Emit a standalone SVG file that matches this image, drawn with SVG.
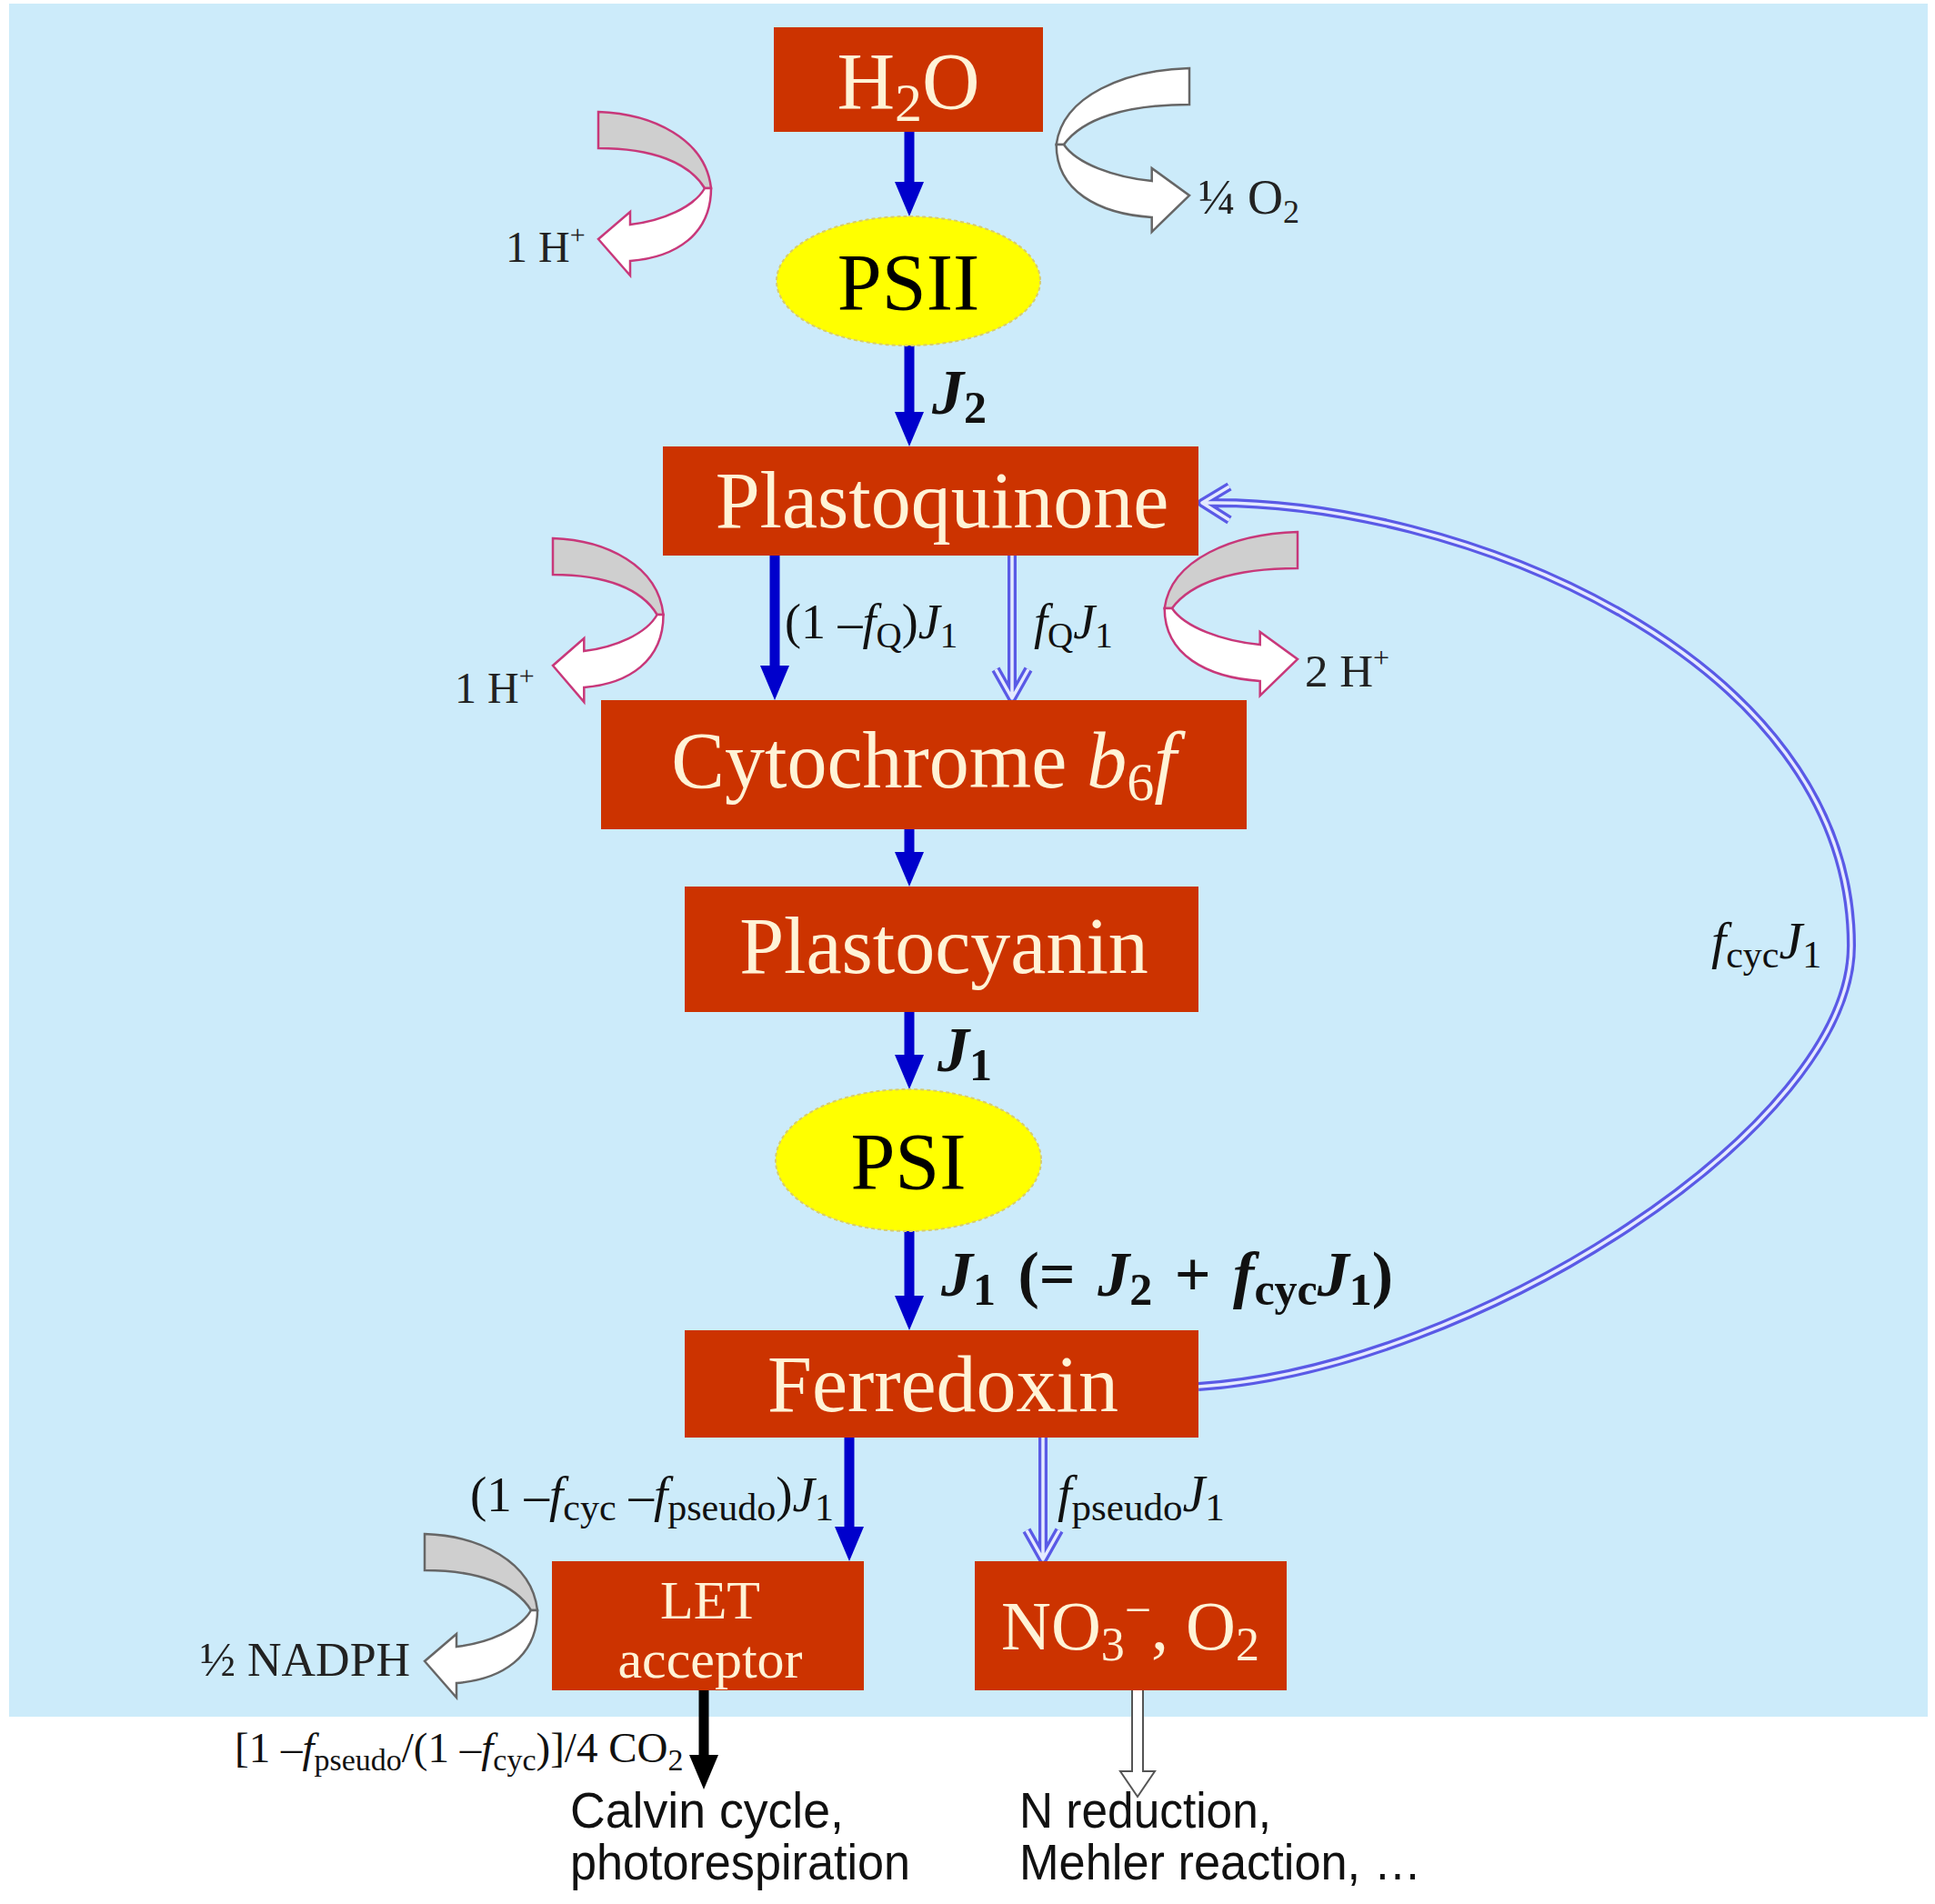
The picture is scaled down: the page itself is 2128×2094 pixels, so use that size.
<svg xmlns="http://www.w3.org/2000/svg" width="2128" height="2094" viewBox="0 0 2128 2094">
<defs>
<style>
.box{fill:#CC3300}
.bt{font-family:'Liberation Serif','Times New Roman',serif;fill:#FFF3D6;font-size:88px;text-anchor:middle}
.lb{font-family:'Liberation Serif','Times New Roman',serif;fill:#111;font-size:54px}
.bj{font-family:'Liberation Serif','Times New Roman',serif;fill:#111;font-size:70px;font-weight:bold;font-style:italic}
.hp{font-family:'Liberation Serif','Times New Roman',serif;fill:#222;font-size:48px}
.sans{font-family:'Liberation Sans',Arial,sans-serif;fill:#111;font-size:56px}
.blue{stroke:#0000CC;stroke-width:11;fill:none}
.dblo{stroke:#5A5AE6;stroke-width:10;fill:none;stroke-linejoin:round}
.dbli{stroke:#E4EAFF;stroke-width:3.5;fill:none;stroke-linejoin:round}
.cpk{stroke:#C8387A;stroke-width:2.5;vector-effect:non-scaling-stroke}
.cgy{stroke:#666;stroke-width:2.5;vector-effect:non-scaling-stroke}
.back{fill:#CFCFCF}
.front{fill:#FFFFFF}
</style>
<marker id="hb" markerUnits="userSpaceOnUse" viewBox="0 0 38 32" refX="0" refY="16" markerWidth="38" markerHeight="32" orient="auto"><path d="M0,0 L38,16 L0,32 Z" fill="#0000CC"/></marker>
<marker id="hk" markerUnits="userSpaceOnUse" viewBox="0 0 38 32" refX="0" refY="16" markerWidth="38" markerHeight="32" orient="auto"><path d="M0,0 L38,16 L0,32 Z" fill="#000"/></marker>
</defs>
<rect x="0" y="0" width="2128" height="2094" fill="#FFFFFF"/>
<rect x="10" y="4" width="2110" height="1884" fill="#CCEBFA"/>

<g id="curved-arrows">
<g id="ca-psii" transform="translate(658,123)">
<path class="back cpk" d="M0,0 C60,2 118,30 124,84 L117,84 C100,56 60,40 0,40 Z"/>
<path class="front cpk" d="M117,84 C105,105 70,120 35,124 L35,110 L0,140 L35,180 L35,164 C85,160 124,135 124,84 Z"/>
</g>
<g id="ca-o2" transform="translate(1308,75) scale(-1.18,1)">
<path class="front cgy" d="M0,0 C60,2 118,30 124,84 L117,84 C100,56 60,40 0,40 Z"/>
<path class="front cgy" d="M117,84 C105,105 70,120 35,124 L35,110 L0,140 L35,180 L35,164 C85,160 124,135 124,84 Z"/>
</g>
<g id="ca-cyt-left" transform="translate(608,592) scale(0.98,1)">
<path class="back cpk" d="M0,0 C60,2 118,30 124,84 L117,84 C100,56 60,40 0,40 Z"/>
<path class="front cpk" d="M117,84 C105,105 70,120 35,124 L35,110 L0,140 L35,180 L35,164 C85,160 124,135 124,84 Z"/>
</g>
<g id="ca-cyt-right" transform="translate(1427,585) scale(-1.18,1)">
<path class="back cpk" d="M0,0 C60,2 118,30 124,84 L117,84 C100,56 60,40 0,40 Z"/>
<path class="front cpk" d="M117,84 C105,105 70,120 35,124 L35,110 L0,140 L35,180 L35,164 C85,160 124,135 124,84 Z"/>
</g>
<g id="ca-nadph" transform="translate(467,1687)">
<path class="back cgy" d="M0,0 C60,2 118,30 124,84 L117,84 C100,56 60,40 0,40 Z"/>
<path class="front cgy" d="M117,84 C105,105 70,120 35,124 L35,110 L0,140 L35,180 L35,164 C85,160 124,135 124,84 Z"/>
</g>
</g>

<g id="connectors">
<line class="blue" x1="1000" y1="145" x2="1000" y2="200" marker-end="url(#hb)"/>
<line class="blue" x1="1000" y1="380" x2="1000" y2="453" marker-end="url(#hb)"/>
<line class="blue" x1="852" y1="611" x2="852" y2="732" marker-end="url(#hb)"/>
<line class="blue" x1="1000" y1="912" x2="1000" y2="937" marker-end="url(#hb)"/>
<line class="blue" x1="1000" y1="1113" x2="1000" y2="1160" marker-end="url(#hb)"/>
<line class="blue" x1="1000" y1="1354" x2="1000" y2="1425" marker-end="url(#hb)"/>
<line class="blue" x1="934" y1="1581" x2="934" y2="1679" marker-end="url(#hb)"/>
<line stroke="#000" stroke-width="11" x1="774" y1="1859" x2="774" y2="1930" marker-end="url(#hk)"/>
<path class="dblo" d="M1113,611 V766 M1095,736 L1113,768 L1131,736"/>
<path class="dbli" d="M1113,611 V766 M1095,736 L1113,768 L1131,736"/>
<path class="dblo" d="M1147,1581 V1713 M1129,1683 L1147,1715 L1165,1683"/>
<path class="dbli" d="M1147,1581 V1713 M1129,1683 L1147,1715 L1165,1683"/>
<path class="dblo" d="M1318,1525 C1620,1505 2036,1240 2036,1040 C2036,720 1600,548 1324,553 M1352,535 L1322,553 L1352,572"/>
<path class="dbli" d="M1318,1525 C1620,1505 2036,1240 2036,1040 C2036,720 1600,548 1324,553 M1352,535 L1322,553 L1352,572"/>
<path d="M1245,1859 V1948 H1232 L1251,1976 L1270,1948 H1257 V1859" fill="#FFF" stroke="#555" stroke-width="2"/>
</g>

<g id="n-h2o"><rect class="box" x="851" y="30" width="296" height="115"/><text class="bt" x="999" y="119">H<tspan font-size="60" dy="14">2</tspan><tspan dy="-14">O</tspan></text></g>
<g id="n-psii"><ellipse cx="999" cy="309" rx="145" ry="71" fill="#FFFF00" stroke="#D8CC6A" stroke-width="2" stroke-dasharray="4 3"/><text x="999" y="340" class="bt" style="fill:#000">PSII</text></g>
<g id="n-pq"><rect class="box" x="729" y="491" width="589" height="120"/><text class="bt" x="1036" y="580">Plastoquinone</text></g>
<g id="n-cyt"><rect class="box" x="661" y="770" width="710" height="142"/><text class="bt" x="1016" y="866">Cytochrome <tspan font-style="italic">b</tspan><tspan font-size="60" dy="14">6</tspan><tspan dy="-14" font-style="italic">f</tspan></text></g>
<g id="n-pc"><rect class="box" x="753" y="975" width="565" height="138"/><text class="bt" x="1038" y="1070">Plastocyanin</text></g>
<g id="n-psi"><ellipse cx="999" cy="1276" rx="146" ry="78" fill="#FFFF00" stroke="#D8CC6A" stroke-width="2" stroke-dasharray="4 3"/><text x="999" y="1307" class="bt" style="fill:#000">PSI</text></g>
<g id="n-fd"><rect class="box" x="753" y="1463" width="565" height="118"/><text class="bt" x="1037" y="1552">Ferredoxin</text></g>
<g id="n-let"><rect class="box" x="607" y="1717" width="343" height="142"/><text class="bt" x="781" y="1780" style="font-size:60px">LET</text><text class="bt" x="781" y="1845" style="font-size:60px">acceptor</text></g>
<g id="n-no3"><rect class="box" x="1072" y="1717" width="343" height="142"/><text class="bt" x="1243" y="1814" style="font-size:76px">NO<tspan font-size="52" dy="12">3</tspan><tspan font-size="52" dy="-38">−</tspan><tspan dy="26">, O</tspan><tspan font-size="52" dy="12">2</tspan></text></g>

<g id="labels">
<text class="bj" x="1025" y="455">J<tspan font-size="50" dy="10" font-style="normal">2</tspan></text>
<text class="lb" x="863" y="702">(1 –<tspan font-style="italic">f</tspan><tspan font-size="39" dy="10">Q</tspan><tspan dy="-10">)</tspan><tspan font-style="italic">J</tspan><tspan font-size="39" dy="10">1</tspan></text>
<text class="lb" x="1137" y="702"><tspan font-style="italic">f</tspan><tspan font-size="39" dy="10">Q</tspan><tspan dy="-10" font-style="italic">J</tspan><tspan font-size="39" dy="10">1</tspan></text>
<text class="bj" x="1031" y="1178">J<tspan font-size="50" dy="10" font-style="normal">1</tspan></text>
<text class="bj" x="1035" y="1425" style="word-spacing:7px">J<tspan font-size="50" dy="10" font-style="normal">1</tspan><tspan dy="-10" font-style="normal"> (= </tspan>J<tspan font-size="50" dy="10" font-style="normal">2</tspan><tspan dy="-10" font-style="normal"> + </tspan>f<tspan font-size="50" dy="10" font-style="normal">cyc</tspan><tspan dy="-10">J</tspan><tspan font-size="50" dy="10" font-style="normal">1</tspan><tspan dy="-10" font-style="normal">)</tspan></text>
<text class="lb" x="1882" y="1054" style="font-size:58px"><tspan font-style="italic">f</tspan><tspan font-size="42" dy="10">cyc</tspan><tspan dy="-10" font-style="italic">J</tspan><tspan font-size="42" dy="10">1</tspan></text>
<text class="lb" x="517" y="1662" style="font-size:55px">(1 –<tspan font-style="italic">f</tspan><tspan font-size="42" dy="10">cyc</tspan><tspan dy="-10"> –</tspan><tspan font-style="italic">f</tspan><tspan font-size="42" dy="10">pseudo</tspan><tspan dy="-10">)</tspan><tspan font-style="italic">J</tspan><tspan font-size="42" dy="10">1</tspan></text>
<text class="lb" x="1163" y="1662" style="font-size:56px"><tspan font-style="italic">f</tspan><tspan font-size="43" dy="10">pseudo</tspan><tspan dy="-10" font-style="italic">J</tspan><tspan font-size="43" dy="10">1</tspan></text>
<text class="lb" x="258" y="1938" style="font-size:47px">[1 –<tspan font-style="italic">f</tspan><tspan font-size="34" dy="9">pseudo</tspan><tspan dy="-9">/(1 –</tspan><tspan font-style="italic">f</tspan><tspan font-size="34" dy="9">cyc</tspan><tspan dy="-9">)]/4 CO</tspan><tspan font-size="34" dy="9">2</tspan></text>
<text class="hp" x="556" y="288">1 H<tspan font-size="30" dy="-20">+</tspan></text>
<text class="hp" x="500" y="773">1 H<tspan font-size="30" dy="-20">+</tspan></text>
<text class="hp" x="1435" y="755" style="font-size:51px">2 H<tspan font-size="32" dy="-21">+</tspan></text>
<text class="hp" x="1318" y="235" style="font-size:54px">¼ O<tspan font-size="36" dy="10">2</tspan></text>
<text class="hp" x="220" y="1843" style="font-size:52px">½ NADPH</text>
<text class="sans" x="627" y="2010" textLength="301" lengthAdjust="spacingAndGlyphs">Calvin cycle,</text>
<text class="sans" x="627" y="2067" textLength="374" lengthAdjust="spacingAndGlyphs">photorespiration</text>
<text class="sans" x="1121" y="2010" textLength="277" lengthAdjust="spacingAndGlyphs">N reduction,</text>
<text class="sans" x="1121" y="2067" textLength="442" lengthAdjust="spacingAndGlyphs">Mehler reaction, …</text>
</g>
</svg>
